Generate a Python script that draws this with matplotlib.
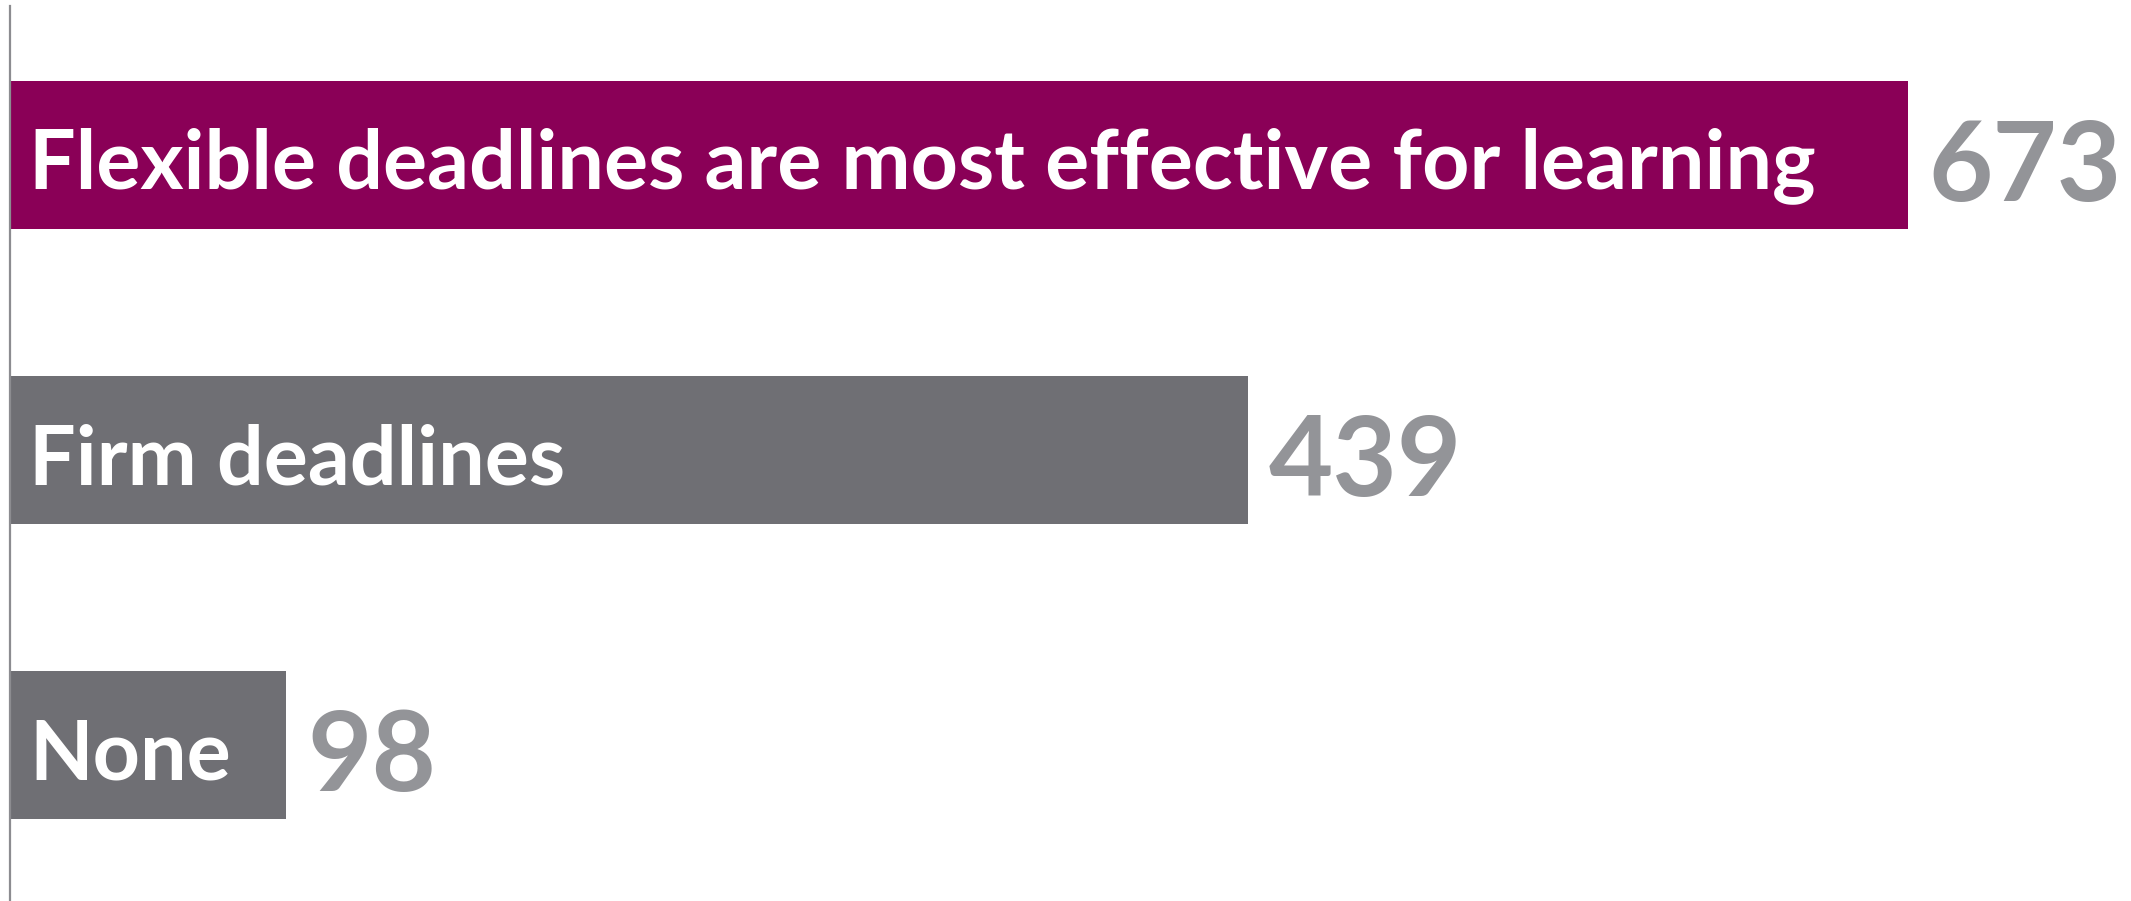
import matplotlib
matplotlib.use("Agg")
import matplotlib.pyplot as plt

categories = ["Flexible deadlines are most effective for learning", "Firm deadlines", "None"]
values = [673, 439, 98]
colors = ["#8a0057", "#6f6f74", "#6f6f74"]

W, H = 2131, 901
fig = plt.figure(figsize=(W / 100, H / 100), dpi=100)
ax = fig.add_axes([10 / W, 0, 1 - 10 / W, (H - 6) / H])

px_per_unit = 2.82
xmax = (W - 10) / px_per_unit
ax.set_xlim(0, xmax)
ax.set_ylim(2.529, -0.505)

pos = list(range(len(categories)))
ax.barh(pos, values, height=0.5, color=colors, left=0)

r = fig.canvas.get_renderer()
t = fig.text(0, 0, categories[0], fontsize=50, fontweight="bold", family="Lato")
w = t.get_window_extent(r).width
t.remove()
lab_fs = 50 * 1790 / w

for p, cat, v in zip(pos, categories, values):
    ax.annotate(cat, xy=(0, p), xytext=(14, -8), textcoords="offset points",
                color="white", fontsize=lab_fs, fontweight="bold",
                family="Lato", va="center", ha="left")
    ax.annotate(str(v), xy=(v, p), xytext=(15, -33), textcoords="offset points",
                color="#939498", fontsize=80, fontweight="bold", family="Lato",
                va="baseline", ha="left")

for s in ["top", "right", "bottom"]:
    ax.spines[s].set_visible(False)
ax.spines["left"].set_color("#8c8c90")
ax.spines["left"].set_linewidth(1.6)
ax.set_xticks([])
ax.set_yticks([])
ax.patch.set_alpha(0)

fig.savefig("out.png", dpi=100)
